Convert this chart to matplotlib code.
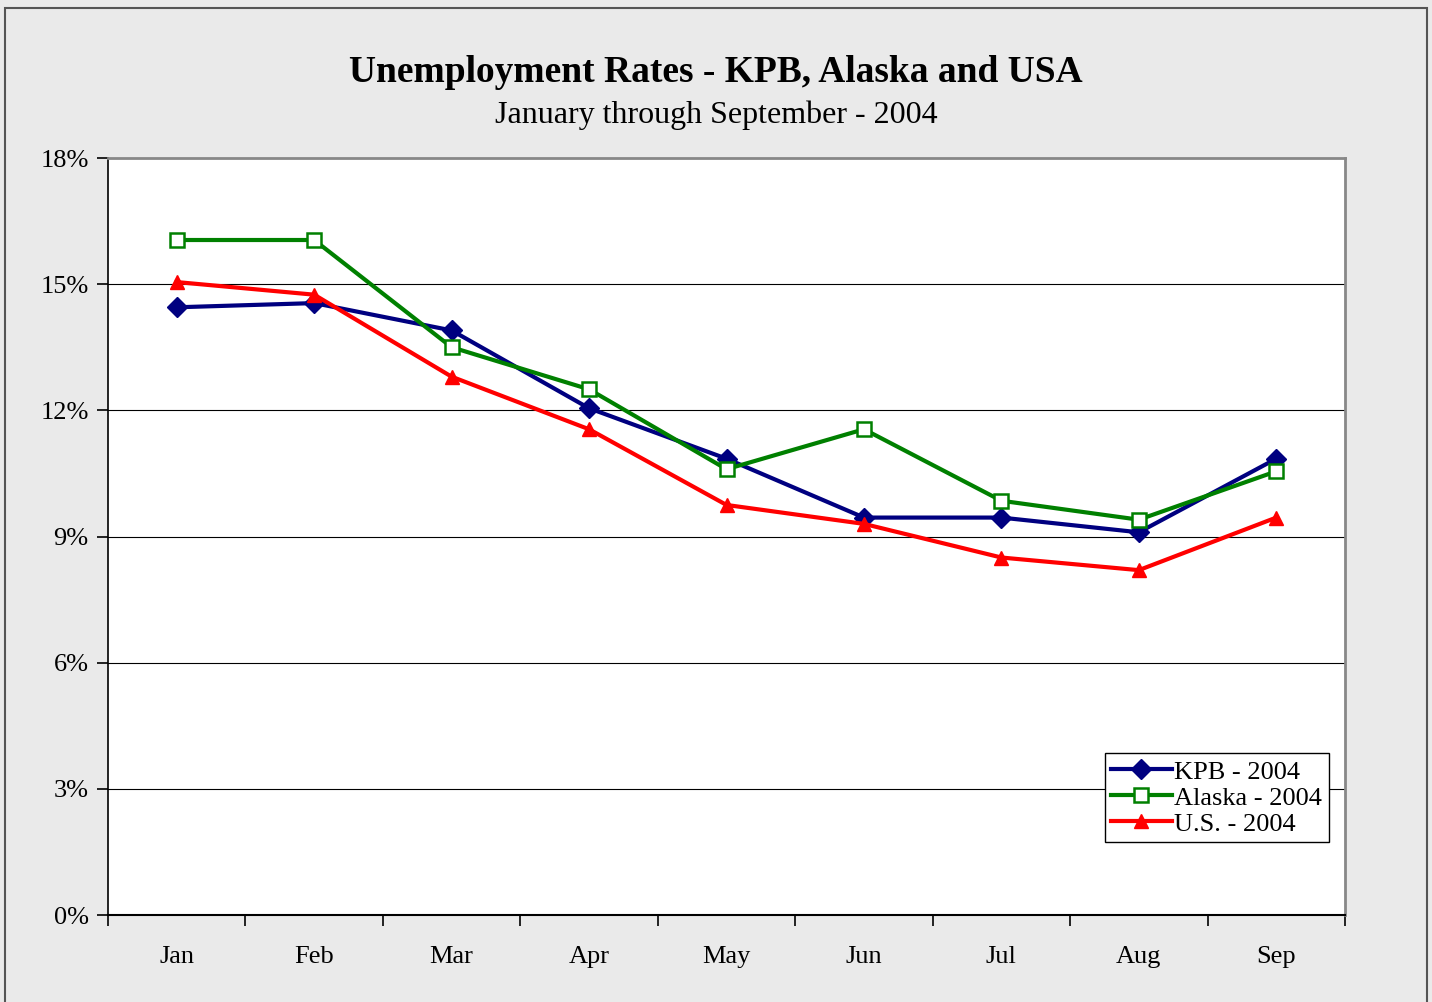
"""Unemployment rates - KPB, Alaska and USA, Jan-Sep 2004."""
import matplotlib
matplotlib.use("Agg")
import matplotlib.pyplot as plt
from matplotlib.patches import Rectangle
from matplotlib.ticker import FixedLocator, FuncFormatter

plt.rcParams.update({"font.family": ["Liberation Serif", "DejaVu Serif"]})

months = ["Jan", "Feb", "Mar", "Apr", "May", "Jun", "Jul", "Aug", "Sep"]
kpb = [14.45, 14.55, 13.9, 12.05, 10.85, 9.45, 9.45, 9.1, 10.85]
alaska = [16.05, 16.05, 13.5, 12.5, 10.6, 11.55, 9.85, 9.4, 10.55]
usa = [15.05, 14.75, 12.8, 11.55, 9.75, 9.3, 8.5, 8.2, 9.45]
yticks = [0, 3, 6, 9, 12, 15, 18]

fig = plt.figure(figsize=(14.32, 10.02), dpi=100, facecolor="#EAEAEA")
fig.patches.append(Rectangle((5 / 1432, -0.01), 1422 / 1432, (1002 - 8) / 1002 + 0.01,
                             transform=fig.transFigure, fill=False,
                             edgecolor="#555555", linewidth=1.5, zorder=0))
ax = fig.add_axes([108 / 1432, 87 / 1002, 1237 / 1432, 757 / 1002])
ax.set_facecolor("white")

x = range(len(months))
ax.plot(x, kpb, color="#000080", lw=3, marker="D", ms=10,
        mfc="#000080", mec="#000080", label="KPB - 2004", zorder=3)
ax.plot(x, alaska, color="#008000", lw=3, marker="s", ms=10,
        mfc="white", mec="#008000", mew=1.8, label="Alaska - 2004", zorder=3)
ax.plot(x, usa, color="#FF0000", lw=3, marker="^", ms=10,
        mfc="#FF0000", mec="#FF0000", label="U.S. - 2004", zorder=3)

ax.set_xlim(-0.5, len(months) - 0.5)
ax.set_ylim(0, 18)
ax.set_xticks(list(x))
ax.set_xticklabels(months, fontsize=19)
ax.xaxis.set_minor_locator(FixedLocator([i - 0.5 for i in range(len(months) + 1)]))
ax.tick_params(axis="x", which="major", length=0, pad=22)
ax.tick_params(axis="x", which="minor", length=8, width=1.2, direction="out")
ax.set_yticks(yticks)
ax.yaxis.set_major_formatter(FuncFormatter(lambda v, p: f"{v:.0f}%"))
ax.tick_params(axis="y", length=8, width=1.2, direction="out", labelsize=19, pad=6)
for t in yticks[1:-1]:
    ax.axhline(t, color="black", lw=0.8, zorder=1)

ax.spines["left"].set_color("black")
ax.spines["bottom"].set_color("black")
ax.spines["left"].set_linewidth(1.2)
ax.spines["bottom"].set_linewidth(1.5)
ax.spines["top"].set_color("#888888")
ax.spines["right"].set_color("#888888")
ax.spines["top"].set_linewidth(2)
ax.spines["right"].set_linewidth(2)

fig.text(0.5, 1 - 72 / 1002, "Unemployment Rates - KPB, Alaska and USA",
         ha="center", va="center", fontsize=27, fontweight="bold")
fig.text(0.5, 1 - 115 / 1002, "January through September - 2004",
         ha="center", va="center", fontsize=23)

leg = ax.legend(loc="lower right", bbox_to_anchor=(0.987, 0.096), fontsize=19,
                frameon=True, fancybox=False, framealpha=1, edgecolor="black",
                borderpad=0.25, labelspacing=0.1, handlelength=2.3,
                handletextpad=0.1, borderaxespad=0)
leg.get_frame().set_linewidth(1.0)

fig.savefig("out.png", dpi=100, facecolor=fig.get_facecolor())
